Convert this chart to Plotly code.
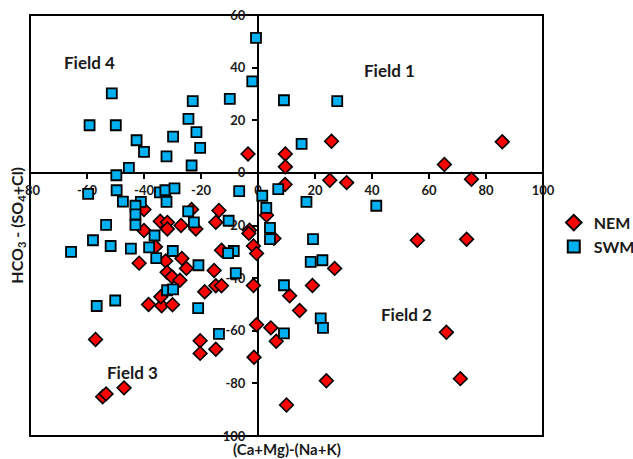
import plotly.graph_objects as go

# ---- data ----
nem_x = [-3.5, 9.6, 9.6, 9.5, 25.8, 85.7, 65.4, 25.2, 31.1, 74.9, 55.9, 73.2, 26.9, 19.1,
         11.1, 14.6, 66.1, -1.6, -0.5, 4.5, 6.4, -3.0, -3.2, -1.6, -0.5, 5.6, 3.0, -1.4,
         24.0, 10.0, 71.0, -57.0, -54.5, -53.3, -47.0, -20.3, -20.3, -14.8, -38.4, -33.8,
         -30.0, -34.1, -18.7, -15.4, -14.8, -12.8, -12.8, -13.7, -14.8, -21.8, -23.3, -41.7,
         -32.4, -26.7, -25.1, -31.9, -30.2, -27.4, -34.3, -31.8, -31.8, -27.0, -40.0, -40.0,
         -36.0]
nem_y = [7.2, 7.2, 2.3, -4.4, 12.0, 11.8, 3.2, -2.8, -3.7, -2.4, -25.6, -25.2, -36.3, -42.8,
         -46.7, -52.3, -60.6, -42.8, -57.7, -58.9, -64.0, -21.8, -23.0, -27.8, -30.6, -24.9,
         -16.1, -70.1, -79.0, -88.2, -78.2, -63.3, -85.1, -84.0, -81.7, -63.8, -68.6, -67.0,
         -50.0, -50.5, -50.1, -47.1, -45.2, -37.1, -42.9, -42.9, -29.4, -14.3, -18.8, -21.3,
         -13.9, -34.3, -33.5, -32.5, -36.3, -37.8, -39.5, -40.8, -18.4, -18.8, -21.3, -20.0,
         -21.9, -13.9, -28.1]

swm_x = [-0.7, -2.0, -9.9, 9.1, 27.8, -51.3, -59.1, -49.9, -42.6, -40.0, -32.1, -29.8, -24.4,
         -22.9, -21.6, -20.3, -23.3, -45.3, -49.7, 15.3, 17.0, 41.5, 7.1, 1.5, 2.9, 4.2, 4.2,
         19.3, 18.5, 22.6, 9.1, 22.0, 22.8, 9.1, -13.7, -59.6, -49.6, -47.4, -53.3, -57.9,
         -65.6, -51.7, -44.6, -56.6, -50.1, -41.1, -43.0, -43.0, -43.0, -36.3, -38.2, -35.7,
         -29.9, -34.4, -32.5, -32.1, -29.3, -24.5, -22.5, -6.6, -10.3, -8.5, -10.5, -7.8,
         -20.9, -31.9, -29.8, -21.0]
swm_y = [51.3, 34.8, 28.1, 27.6, 27.3, 30.2, 18.1, 18.1, 12.4, 8.0, 6.3, 13.8, 20.5, 27.3,
         15.5, 9.5, 2.8, 1.9, -0.9, 11.0, -11.0, -12.5, -6.2, -8.7, -13.3, -20.9, -25.2,
         -25.2, -33.8, -33.2, -42.7, -55.3, -58.9, -61.0, -61.2, -8.0, -6.6, -10.9, -19.8,
         -25.6, -30.0, -27.8, -28.8, -50.6, -48.5, -11.0, -12.5, -15.8, -19.8, -23.8, -28.3,
         -32.4, -29.7, -7.4, -6.6, -11.0, -5.9, -14.6, -18.8, -6.9, -18.2, -29.7, -30.5,
         -38.1, -35.1, -44.6, -44.3, -51.4]

x_tickvals = [-80, -60, -40, -20, 0, 20, 40, 60, 80, 100]
x_ticktext = ["-80", "-60", "-40", "-20", "0", "20", "40", "60", "80", "100"]
y_tickvals = [60, 40, 20, 0, -20, -40, -60, -80, -100]
y_ticktext = ["60", "40", "20", "0", "-20", "-40", "-60", "-80", "100"]

x_range = [-80, 100]
y_range = [-100, 60]

field_labels = ["Field 1", "Field 2", "Field 3", "Field 4"]
field_x = [46, 52, -44, -59]
field_y = [39, -54, -76, 42]

FONT = "Lato"
TXT = "#1a1a1a"

fig = go.Figure()
fig.add_trace(go.Scatter(
    x=nem_x, y=nem_y, mode="markers", name="NEM",
    marker=dict(symbol="diamond", size=10.5, color="#FF0000",
                line=dict(color="black", width=1.6)),
))
fig.add_trace(go.Scatter(
    x=swm_x, y=swm_y, mode="markers", name="SWM",
    marker=dict(symbol="square", size=10, color="#00B0F0",
                line=dict(color="black", width=1.8)),
))

for t, fx, fy in zip(field_labels, field_x, field_y):
    fig.add_annotation(x=fx, y=fy, text="<b>%s</b>" % t, showarrow=False,
                       font=dict(family=FONT, size=17, color=TXT))

# axis titles
fig.add_annotation(xref="paper", yref="paper", x=0.5, y=-0.03, yanchor="middle",
                   text="<b>(Ca+Mg)-(Na+K)</b>", showarrow=False,
                   font=dict(family=FONT, size=15, color=TXT))
fig.add_annotation(xref="paper", yref="paper", x=-0.025, y=0.5, xanchor="center",
                   text="<b>HCO<sub>3</sub> - (SO<sub>4</sub>+Cl)</b>", textangle=-90,
                   showarrow=False, font=dict(family=FONT, size=16, color=TXT))

# outer frame
fig.add_shape(type="rect", xref="paper", yref="paper", x0=0, y0=0, x1=1, y1=1,
              line=dict(color="black", width=2), layer="below")

fig.update_layout(
    width=633, height=459,
    margin=dict(l=30, r=90, t=15, b=23, autoexpand=False),
    paper_bgcolor="white", plot_bgcolor="white",
    font=dict(family=FONT, color=TXT),
    xaxis=dict(range=x_range, tickvals=x_tickvals, ticktext=x_ticktext,
               anchor="free", position=(0 - y_range[0]) / (y_range[1] - y_range[0]),
               showline=True, linecolor="black", linewidth=2,
               ticks="outside", ticklen=5, tickwidth=1.5, tickcolor="black",
               ticklabelstandoff=1,
               showgrid=False, zeroline=False, layer="below traces",
               tickfont=dict(family=FONT, size=13, color=TXT, weight="bold")),
    yaxis=dict(range=y_range, tickvals=y_tickvals, ticktext=y_ticktext,
               anchor="free", position=(0 - x_range[0]) / (x_range[1] - x_range[0]),
               showline=True, linecolor="black", linewidth=2,
               ticks="outside", ticklen=5, tickwidth=1.5, tickcolor="black",
               ticklabelstandoff=4,
               showgrid=False, zeroline=False, layer="below traces",
               tickfont=dict(family=FONT, size=13, color=TXT, weight="bold")),
    legend=dict(x=1.021, y=0.547, xanchor="left", yanchor="top",
                font=dict(family=FONT, size=16, color=TXT, weight="bold"),
                bgcolor="rgba(0,0,0,0)", tracegroupgap=0, itemsizing="constant"),
    showlegend=True,
)

fig.write_html("out.html")
